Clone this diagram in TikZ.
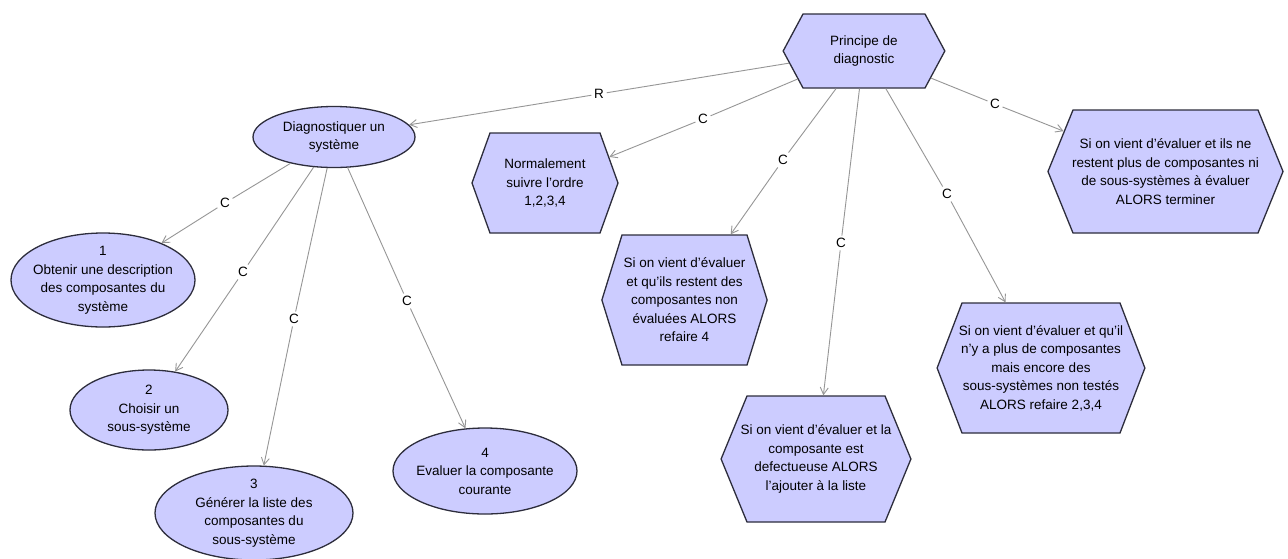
\documentclass[tikz,border=0pt]{standalone}
\usepackage{fontspec}
\setmainfont{Liberation Sans}
\usetikzlibrary{shapes.geometric,shapes.symbols,arrows.meta}
\definecolor{conceptfill}{RGB}{204,204,255}
\definecolor{conceptline}{RGB}{45,45,60}
\definecolor{linkgray}{RGB}{150,150,150}
\begin{document}
\begin{tikzpicture}[x=1pt,y=-1pt,
  conc/.style={ellipse,draw=conceptline,fill=conceptfill,line width=1.3pt,inner sep=0pt},
  hexa/.style={signal,signal to=west and east,draw=conceptline,fill=conceptfill,line width=1.3pt},
  txt/.style={align=center,font=\fontsize{13.5}{18.5}\selectfont,inner sep=0pt,text=black},
  lab/.style={font=\fontsize{13.5}{16}\selectfont,inner sep=2.5pt,text=black},
  ln/.style={draw=linkgray,line width=0.9pt},
  arr/.style={ln,-{Straight Barb[length=7pt,width=8pt]}}]
\useasboundingbox[fill=white] (0,0) rectangle (1288,558);

% hexagons
\node[hexa,inner xsep=61pt,inner ysep=37pt,signal pointer angle=123.6,
  label={[txt]center:{Principe de\\diagnostic}}] (princ) at (864,51) {};
\node[hexa,inner xsep=55pt,inner ysep=50pt,signal pointer angle=140.4,
  label={[txt]center:{Normalement\\suivre l'ordre\\1,2,3,4}}] (norm) at (545,183) {};
\node[hexa,inner xsep=62.5pt,inner ysep=65pt,signal pointer angle=145.6,
  label={[txt]center:{Si on vient d'évaluer\\et qu'ils restent des\\composantes non\\évaluées ALORS\\refaire 4}}] (rest) at (684.5,300) {};
\node[hexa,inner xsep=69pt,inner ysep=63pt,signal pointer angle=135.3,
  label={[txt]center:{Si on vient d'évaluer et la\\composante est\\defectueuse ALORS\\l'ajouter à la liste}}] (compo) at (816,459) {};
\node[hexa,inner xsep=79pt,inner ysep=65pt,signal pointer angle=138.1,
  label={[txt]center:{Si on vient d'évaluer et qu'il\\n'y a plus de composantes\\mais encore des\\sous-systèmes non testés\\ALORS refaire 2,3,4}}] (nya) at (1041,368) {};
\node[hexa,inner xsep=92.5pt,inner ysep=61.5pt,signal pointer angle=135.7,
  label={[txt]center:{Si on vient d'évaluer et ils ne\\restent plus de composantes ni\\de sous-systèmes à évaluer\\ALORS terminer}}] (fin) at (1165.5,171.5) {};

% ellipses
\node[conc,minimum width=162pt,minimum height=61pt,
  label={[txt]center:{Diagnostiquer un\\système}}] (diag) at (334,137) {};
\node[conc,minimum width=184pt,minimum height=94pt,
  label={[txt]center:{1\\Obtenir une description\\des composantes du\\système}}] (e1) at (103,280) {};
\node[conc,minimum width=158pt,minimum height=80pt,
  label={[txt]center:{2\\Choisir un\\sous-système}}] (e2) at (149,410) {};
\node[conc,minimum width=198pt,minimum height=94pt,
  label={[txt]center:{3\\Générer la liste des\\composantes du\\sous-système}}] (e3) at (254,513) {};
\node[conc,minimum width=184pt,minimum height=86pt,
  label={[txt]center:{4\\Evaluer la composante\\courante}}] (e4) at (485,471) {};

% link labels
\node[lab] (lR) at (599,94) {R};
\node[lab] (lN) at (703,119) {C};
\node[lab] (lRe) at (783,160) {C};
\node[lab] (lCo) at (841,243) {C};
\node[lab] (lNy) at (947,194) {C};
\node[lab] (lFi) at (995,104) {C};
\node[lab] (l1) at (225,203) {C};
\node[lab] (l2) at (243,272) {C};
\node[lab] (l3) at (294,319) {C};
\node[lab] (l4) at (407,301) {C};

% connectors
\draw[ln] (princ) -- (lR);  \draw[arr] (lR) -- (diag);
\draw[ln] (princ) -- (lN);  \draw[arr] (lN) -- (norm);
\draw[ln] (princ) -- (lRe); \draw[arr] (lRe) -- (rest);
\draw[ln] (princ) -- (lCo); \draw[arr] (lCo) -- (compo);
\draw[ln] (princ) -- (lNy); \draw[arr] (lNy) -- (nya);
\draw[ln] (princ) -- (lFi); \draw[arr] (lFi) -- (fin);
\draw[ln] (diag) -- (l1); \draw[arr] (l1) -- (e1);
\draw[ln] (diag) -- (l2); \draw[arr] (l2) -- (e2);
\draw[ln] (diag) -- (l3); \draw[arr] (l3) -- (e3);
\draw[ln] (diag) -- (l4); \draw[arr] (l4) -- (e4);
\end{tikzpicture}
\end{document}
